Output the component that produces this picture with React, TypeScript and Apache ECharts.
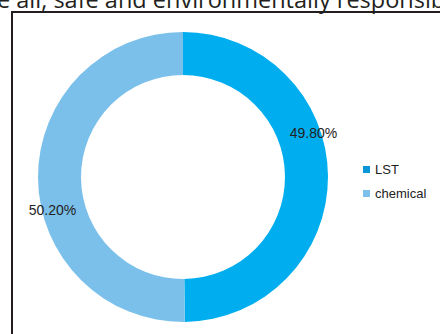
import React, { useEffect, useRef } from "react";
import * as echarts from "echarts";

const categories = ["LST", "chemical"];
const values = [49.8, 50.2];
const ringColors = ["#00AEEF", "#7BC0EA"];
const legendColors = ["#0A97D9", "#7BC0EA"];
const labelOffsets = [
  [4, -43],
  [-4, 32],
];
const titleText = "e all, safe and environmentally responsib";

export default function App() {
  const ref = useRef<HTMLDivElement>(null);
  useEffect(() => {
    const chart = echarts.init(ref.current!, null, { renderer: "svg" });
    chart.setOption({
      animation: false,
      backgroundColor: "#ffffff",
      graphic: [
        {
          type: "text",
          left: -3,
          top: -13,
          style: {
            text: titleText,
            font: '23.5px "Open Sans"',
            fill: "#231f20",
          },
        },
        {
          type: "rect",
          shape: { x: 12, y: 12, width: 460, height: 360 },
          style: { fill: "none", stroke: "#231f20", lineWidth: 2 },
          silent: true,
          z: -1,
        },
      ],
      legend: {
        orient: "vertical",
        left: 358,
        top: 158,
        itemWidth: 7,
        itemHeight: 7,
        itemGap: 11,
        icon: "rect",
        textStyle: { fontFamily: "Liberation Sans, Arial", fontSize: 13, color: "#222" },
        data: categories.map((c, i) => ({ name: c, itemStyle: { color: legendColors[i] } })),
      },
      series: [
        {
          type: "pie",
          center: [183, 177],
          radius: [102, 145],
          startAngle: 90,
          clockwise: true,
          avoidLabelOverlap: false,
          labelLine: { show: false },
          label: {
            show: true,
            position: "inside",
            fontFamily: "Liberation Sans, Arial",
            fontSize: 14,
            color: "#222",
            formatter: (p: any) => p.value.toFixed(2) + "%",
          },
          emphasis: { disabled: true },
          data: categories.map((c, i) => ({
            name: c,
            value: values[i],
            itemStyle: { color: ringColors[i] },
            label: { offset: labelOffsets[i] },
          })),
        },
      ],
    });
    return () => chart.dispose();
  }, []);
  return (
    <div
      ref={ref}
      style={{ position: "fixed", left: 0, top: 0, width: 440, height: 334 }}
    />
  );
}
